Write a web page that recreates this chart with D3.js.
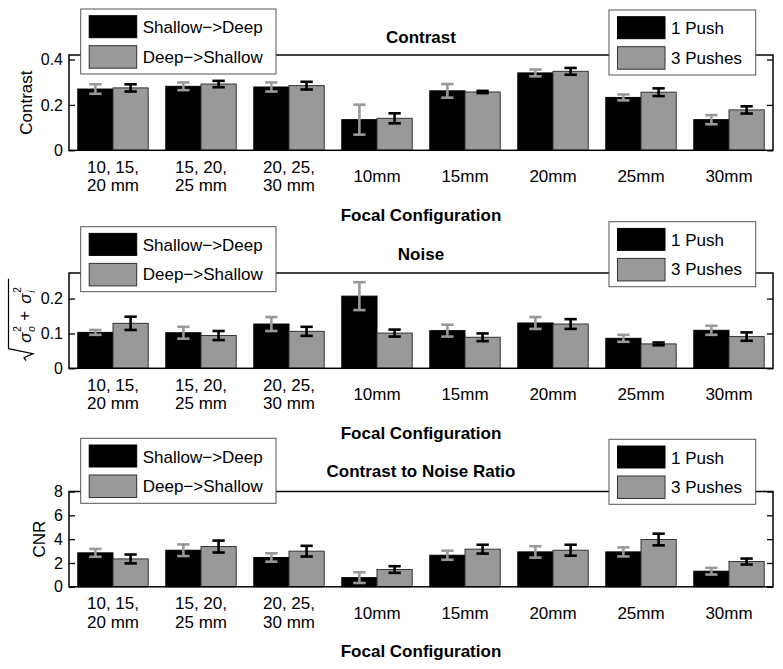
<!DOCTYPE html>
<html><head><meta charset="utf-8">
<script src="https://cdn.jsdelivr.net/npm/d3@7"></script>
<style>body{margin:0;background:#fff} text{font-family:"Liberation Sans",Arial,Helvetica,sans-serif}</style>
</head><body><svg id="chart" width="783" height="669"></svg>
<script>
// ---- data ----
const categories = [["10, 15,","20 mm"],["15, 20,","25 mm"],["20, 25,","30 mm"],["10mm"],["15mm"],["20mm"],["25mm"],["30mm"]];
const legendLeft = ["Shallow\u2212>Deep","Deep\u2212>Shallow"];
const legendRight = ["1 Push","3 Pushes"];
const xAxisTitle = "Focal Configuration";

const contrastBlack    = [0.270,0.282,0.279,0.135,0.262,0.341,0.233,0.135];
const contrastBlackErr = [0.021,0.017,0.020,0.066,0.030,0.015,0.013,0.020];
const contrastGray     = [0.275,0.292,0.285,0.141,0.257,0.348,0.256,0.178];
const contrastGrayErr  = [0.016,0.014,0.017,0.022,0.005,0.015,0.017,0.016];
const contrastTicks = [0,0.2,0.4];

const noiseBlack    = [0.103,0.102,0.127,0.207,0.108,0.130,0.086,0.109];
const noiseBlackErr = [0.007,0.017,0.020,0.040,0.017,0.017,0.010,0.013];
const noiseGray     = [0.129,0.094,0.106,0.101,0.089,0.127,0.070,0.091];
const noiseGrayErr  = [0.019,0.013,0.013,0.010,0.011,0.014,0.004,0.012];
const noiseTicks = [0,0.1,0.2];

const cnrBlack    = [2.85,3.07,2.46,0.77,2.65,2.93,2.93,1.31];
const cnrBlackErr = [0.33,0.49,0.35,0.45,0.38,0.48,0.38,0.28];
const cnrGray     = [2.34,3.38,2.99,1.45,3.16,3.07,3.97,2.12];
const cnrGrayErr  = [0.37,0.50,0.45,0.28,0.37,0.46,0.49,0.25];
const cnrTicks = [0,2,4,6,8];

// ---- layout ----
const svg = d3.select("#chart");
const L = 69, R = 773;
const BLACK = "#000", GRAY = "#999";
const x = d3.scaleLinear().domain([0.5, 8.5]).range([L, R]);
const barW = 0.4, capHalf = 0.07;

const panels = [
  {title:"Contrast", ylabel:"Contrast", top:55, yMax:0.42, ticks:contrastTicks,
   black:contrastBlack, blackErr:contrastBlackErr, gray:contrastGray, grayErr:contrastGrayErr,
   titleY:43, legL:9, legR:10},
  {title:"Noise", ylabel:null, top:273, yMax:0.2734, ticks:noiseTicks,
   black:noiseBlack, blackErr:noiseBlackErr, gray:noiseGray, grayErr:noiseGrayErr,
   titleY:260, legL:226.7, legR:221.7},
  {title:"Contrast to Noise Ratio", ylabel:"CNR", top:491.5, yMax:8, ticks:cnrTicks,
   black:cnrBlack, blackErr:cnrBlackErr, gray:cnrGray, grayErr:cnrGrayErr,
   titleY:477, legL:438.3, legR:439.3, ylabelX:45}
];
const H = 95.3;

panels.forEach((p, pi) => {
  const bottom = p.top + H;
  const y = d3.scaleLinear().domain([0, p.yMax]).range([bottom, p.top]);
  const g = svg.append("g");

  // bars
  const idx = d3.range(categories.length);
  g.selectAll(".bb").data(idx).join("rect")
    .attr("x", i => x(i + 1 - barW)).attr("width", x(barW) - x(0))
    .attr("y", i => y(p.black[i])).attr("height", i => y(0) - y(p.black[i]))
    .attr("fill", BLACK).attr("stroke", "#000").attr("stroke-width", 1);
  g.selectAll(".bg").data(idx).join("rect")
    .attr("x", i => x(i + 1)).attr("width", x(barW) - x(0))
    .attr("y", i => y(p.gray[i])).attr("height", i => y(0) - y(p.gray[i]))
    .attr("fill", GRAY).attr("stroke", "#333").attr("stroke-width", 1);

  // error bars
  function errBars(vals, errs, offset, color) {
    const eg = g.append("g").attr("stroke", color).attr("stroke-width", 2.6).attr("fill", "none");
    idx.forEach(i => {
      const cx = i + 1 + offset;
      const y1 = y(vals[i] + errs[i]), y2 = y(vals[i] - errs[i]);
      eg.append("line").attr("x1", x(cx)).attr("x2", x(cx)).attr("y1", y1).attr("y2", y2);
      eg.append("line").attr("x1", x(cx - capHalf)).attr("x2", x(cx + capHalf)).attr("y1", y1).attr("y2", y1);
      eg.append("line").attr("x1", x(cx - capHalf)).attr("x2", x(cx + capHalf)).attr("y1", y2).attr("y2", y2);
    });
  }
  errBars(p.black, p.blackErr, -barW / 2, GRAY);
  errBars(p.gray, p.grayErr, barW / 2, BLACK);

  // axes box
  const ax = g.append("g");
  const la = ax.append("g").attr("transform", `translate(${L},0)`)
    .call(d3.axisLeft(y).tickValues(p.ticks).tickSizeInner(-6).tickSizeOuter(0).tickPadding(6).tickFormat(d => String(d)));
  la.select(".domain").remove();
  la.selectAll("line").attr("stroke", "#000").attr("stroke-width", 1.3);
  la.selectAll("text").attr("font-size", 16).attr("fill", "#000")
    .attr("font-family", '"Liberation Sans",Arial,sans-serif');
  const ra = ax.append("g").attr("transform", `translate(${R},0)`)
    .call(d3.axisRight(y).tickValues(p.ticks).tickSizeInner(-6).tickSizeOuter(0).tickFormat(""));
  ra.select(".domain").remove();
  ra.selectAll("line").attr("stroke", "#000").attr("stroke-width", 1.3);
  ax.append("rect").attr("x", L).attr("y", p.top).attr("width", R - L).attr("height", H)
    .attr("fill", "none").attr("stroke", "#000").attr("stroke-width", 1.5);

  // x tick labels
  idx.forEach(i => {
    const lines = categories[i];
    const t = g.append("text").attr("text-anchor", "middle").attr("font-size", 17).attr("fill", "#000");
    if (lines.length === 2) {
      t.append("tspan").attr("x", x(i + 1)).attr("y", bottom + 22.6).text(lines[0]);
      t.append("tspan").attr("x", x(i + 1)).attr("y", bottom + 41).text(lines[1]);
    } else {
      t.append("tspan").attr("x", x(i + 1)).attr("y", bottom + 32).text(lines[0]);
    }
  });

  // x axis title
  g.append("text").attr("x", (L + R) / 2).attr("y", bottom + 70.3).attr("text-anchor", "middle")
    .attr("font-size", 17).attr("font-weight", "bold").text(xAxisTitle);

  // title
  g.append("text").attr("x", (L + R) / 2).attr("y", p.titleY).attr("text-anchor", "middle")
    .attr("font-size", 17).attr("font-weight", "bold").text(p.title);

  // y label
  if (p.ylabel) {
    const cy = (p.top + bottom) / 2;
    const lx = p.ylabelX || 31.5;
    g.append("text").attr("transform", `translate(${lx},${cy}) rotate(-90)`)
      .attr("text-anchor", "middle").attr("font-size", 17).text(p.ylabel);
  } else {
    // sqrt(sigma_o^2 + sigma_i^2)
    const cy = (p.top + bottom) / 2;
    const rg = g.append("g").attr("transform", `translate(31,${cy}) rotate(-90)`);
    rg.append("path").attr("d", "M-40,-5 L-37,-7 L-33,2 L-28,-22.5 L42,-22.5")
      .attr("fill", "none").attr("stroke", "#000").attr("stroke-width", 1.2);
    const serif = '"DejaVu Serif","Liberation Serif",serif';
    const add = (u, v, s, size, it) => rg.append("text").attr("x", u).attr("y", v)
      .attr("font-size", size).attr("font-family", serif).attr("font-style", it ? "italic" : "normal").text(s);
    add(-22, 0, "\u03c3", 17, true);
    add(-11, -10, "2", 10, false);
    add(-11, 3.5, "o", 10, true);
    add(0, -1, "+", 17, false);
    add(17, 0, "\u03c3", 17, true);
    add(28, -10, "2", 10, false);
    add(28, 3.5, "i", 10, true);
  }

  // legends
  function legend(lx, ly, w, names) {
    const lg = svg.append("g").attr("transform", `translate(${lx},${ly})`);
    lg.append("rect").attr("width", w).attr("height", 65).attr("fill", "#fff")
      .attr("stroke", "#555").attr("stroke-width", 1);
    lg.append("rect").attr("x", 8.5).attr("y", 6.7).attr("width", 47.5).attr("height", 22)
      .attr("fill", BLACK).attr("stroke", "#000");
    lg.append("rect").attr("x", 8.5).attr("y", 36.7).attr("width", 47.5).attr("height", 22.5)
      .attr("fill", GRAY).attr("stroke", "#333");
    lg.append("text").attr("x", 62).attr("y", 24.3).attr("font-size", 17).text(names[0]);
    lg.append("text").attr("x", 62).attr("y", 53.5).attr("font-size", 17).text(names[1]);
  }
  legend(80.7, p.legL, 195.3, legendLeft);
  legend(609, p.legR, 146.7, legendRight);
});
</script></body></html>
